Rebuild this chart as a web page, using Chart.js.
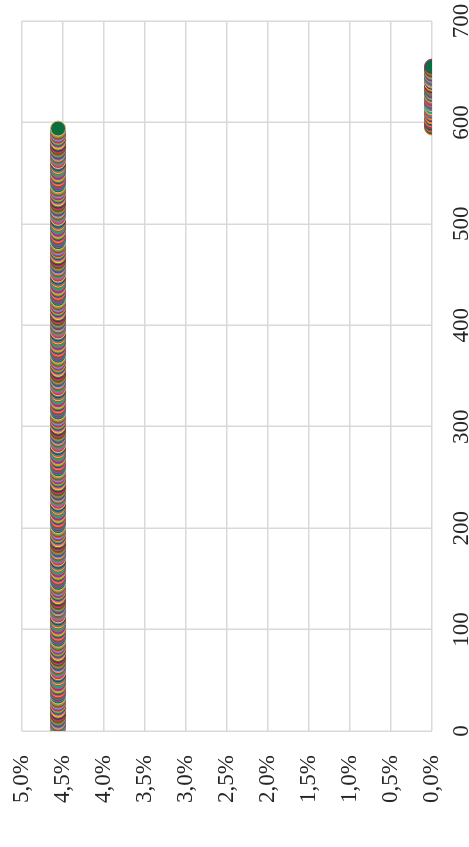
<!DOCTYPE html>
<html>
<head>
<meta charset="utf-8">
<script src="https://cdn.jsdelivr.net/npm/chart.js@4.4.1/dist/chart.umd.min.js"></script>
<style>
    html, body { margin: 0; padding: 0; background: #fff; overflow: hidden; }
    /* chart is drawn landscape and turned a quarter turn to the left */
    #wrap {
        position: absolute; left: 0; top: 0;
        width: 847px; height: 469px;
        transform-origin: 0 0;
        transform: translateY(847px) rotate(-90deg);
    }
</style>
</head>
<body>
<div id="wrap"><canvas id="chart" width="847" height="469"></canvas></div>
<script>
const xTicks = [0, 100, 200, 300, 400, 500, 600, 700];
const yTicks = [0, 0.005, 0.01, 0.015, 0.02, 0.025, 0.03, 0.035, 0.04, 0.045, 0.05];

// group at ~4.56 %
const xUpper = [
    0,2,4,6,8,10,12,14,16,18,20,22,24,26,28,30,32,34,36,38,
    40,42,44,46,48,50,52,54,56,58,60,62,64,66,68,70,72,74,76,78,
    80,82,84,86,88,90,92,94,96,98,100,102,104,106,108,110,112,114,116,118,
    120,122,124,126,128,130,132,134,136,138,140,142,144,146,148,150,152,154,156,158,
    160,162,164,166,168,170,172,174,176,178,180,182,184,186,188,190,192,194,196,198,
    200,202,204,206,208,210,212,214,216,218,220,222,224,226,228,230,232,234,236,238,
    240,242,244,246,248,250,252,254,256,258,260,262,264,266,268,270,272,274,276,278,
    280,282,284,286,288,290,292,294,296,298,300,302,304,306,308,310,312,314,316,318,
    320,322,324,326,328,330,332,334,336,338,340,342,344,346,348,350,352,354,356,358,
    360,362,364,366,368,370,372,374,376,378,380,382,384,386,388,390,392,394,396,398,
    400,402,404,406,408,410,412,414,416,418,420,422,424,426,428,430,432,434,436,438,
    440,442,444,446,448,450,452,454,456,458,460,462,464,466,468,470,472,474,476,478,
    480,482,484,486,488,490,492,494,496,498,500,502,504,506,508,510,512,514,516,518,
    520,522,524,526,528,530,532,534,536,538,540,542,544,546,548,550,552,554,556,558,
    560,562,564,566,568,570,572,574,576,578,580,582,584,586,588,590,592,594
];
const yUpper = 0.0456;

// group at 0 %
const xLower = [
    595,597,599,601,603,605,607,609,611,613,615,617,619,621,623,625,
    627,629,631,633,635,637,639,641,643,645,647,649,651,653,655
];
const yLower = 0;

const palette = [
    "#4f6fb8", "#c0392b", "#e84a8a", "#2e8b57", "#f0a030", "#6a3d9a", "#1f9aa8",
    "#8b5a2b", "#d94f2a", "#2c3e50", "#f2c94c", "#9b59b6", "#3aa655", "#b03060",
    "#5dade2", "#7f4f24", "#e67e22", "#0b6e3f", "#c71585", "#556b2f", "#ff7f50",
    "#34495e", "#daa520", "#8e44ad", "#e74c3c", "#27ae60", "#f4b183", "#16a085"
];

// each group starts the colour cycle at its own place
const fillColor = (shift) => (c) => palette[(c.dataIndex + shift) % palette.length];
const edgeColor = (shift) => (c) => palette[(c.dataIndex + shift + 9) % palette.length];

const textColor = "#262626";
const tickFont = { family: "'Liberation Serif', serif", size: 23 };

// no extra room for the end labels, layout padding alone sets the plot box
function fixBox(s, size) {
    if (s.isHorizontal()) s.height = size; else s.width = size;
    s.paddingTop = 0;
    s.paddingBottom = 0;
    s.paddingLeft = 0;
    s.paddingRight = 0;
}

new Chart(document.getElementById("chart"), {
    type: "scatter",
    data: {
        datasets: [
            {
                data: xUpper.map((x) => ({ x: x, y: yUpper })),
                pointRadius: 7.5,
                pointBackgroundColor: fillColor(0),
                pointBorderColor: edgeColor(0),
                pointBorderWidth: 1,
            },
            {
                data: xLower.map((x) => ({ x: x, y: yLower })),
                pointRadius: 7.5,
                pointBackgroundColor: fillColor(15),
                pointBorderColor: edgeColor(7),
                pointBorderWidth: 1,
            },
        ],
    },
    options: {
        responsive: false,
        animation: false,
        layout: { padding: { top: 22, right: 21, left: 0, bottom: 0 } },
        plugins: {
            legend: { display: false },
            tooltip: { enabled: false },
        },
        scales: {
            x: {
                type: "linear",
                min: 0,
                max: 700,
                afterBuildTicks: (s) => { s.ticks = xTicks.map((v) => ({ value: v })); },
                afterFit: (s) => fixBox(s, 37),
                grid: { color: "#d9d9d9", lineWidth: 1.5, drawTicks: false },
                border: { display: false },
                ticks: { padding: 16, color: textColor, font: tickFont, maxRotation: 0 },
            },
            y: {
                type: "linear",
                min: 0,
                max: 0.05,
                afterBuildTicks: (s) => { s.ticks = yTicks.map((v) => ({ value: v })); },
                afterFit: (s) => fixBox(s, 116),
                grid: { color: "#d9d9d9", lineWidth: 1.5, drawTicks: false },
                border: { display: false },
                ticks: {
                    padding: 24,
                    color: textColor,
                    font: tickFont,
                    callback: (v) => (v * 100).toFixed(1).replace(".", ",") + "%",
                },
            },
        },
    },
});
</script>
</body>
</html>
